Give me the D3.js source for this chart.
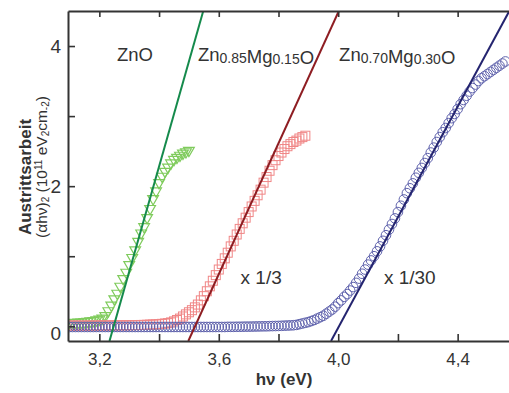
<!DOCTYPE html>
<html>
<head>
<meta charset="utf-8">
<script src="https://cdn.jsdelivr.net/npm/d3@7"></script>
<style>
  body { margin: 0; background: #fff; }
  text { font-family: "Liberation Sans", Arial, sans-serif; fill: #333; }
</style>
</head>
<body>
<div class="chart"></div>
<script>
const WIDTH = 509;
const HEIGHT = 393;

// axis ticks
const xMajorTicks = [3.2, 3.6, 4.0, 4.4];
const xMinorTicks = [3.4, 3.8, 4.2];
const xTickLabels = ['3,2', '3,6', '4,0', '4,4'];
const yMajorTicks = [0, 2, 4];
const yMinorTicks = [1, 3];

// measured curves [hv (eV), (alpha hv)^2]
const znoData = [
  [3.10,0.05],[3.11,0.05],[3.12,0.055],[3.13,0.06],[3.14,0.06],[3.15,0.065],[3.16,0.07],[3.17,0.075],
  [3.18,0.08],[3.19,0.09],[3.20,0.10],[3.21,0.115],[3.22,0.15],[3.23,0.22],[3.24,0.30],[3.25,0.39],
  [3.26,0.47],[3.27,0.57],[3.28,0.68],[3.29,0.77],[3.30,0.88],[3.31,0.98],[3.32,1.09],[3.33,1.21],
  [3.34,1.33],[3.35,1.42],[3.36,1.55],[3.37,1.68],[3.38,1.82],[3.39,1.93],[3.40,2.05],[3.41,2.14],
  [3.42,2.21],[3.43,2.27],[3.44,2.33],[3.45,2.38],[3.46,2.41],[3.47,2.44],[3.48,2.47],[3.49,2.49],[3.50,2.51]
];
const zn85Data = [
  [3.10,0.01],[3.11,0.01],[3.12,0.01],[3.13,0.01],[3.14,0.01],[3.15,0.01],[3.16,0.01],[3.17,0.01],
  [3.18,0.01],[3.19,0.01],[3.20,0.012],[3.21,0.012],[3.22,0.012],[3.23,0.012],[3.24,0.013],[3.25,0.013],
  [3.26,0.014],[3.27,0.014],[3.28,0.015],[3.29,0.015],[3.30,0.015],[3.31,0.016],[3.32,0.017],[3.33,0.018],
  [3.34,0.019],[3.35,0.02],[3.36,0.022],[3.37,0.024],[3.38,0.026],[3.39,0.028],[3.40,0.03],[3.41,0.035],
  [3.42,0.04],[3.43,0.045],[3.44,0.055],[3.45,0.07],[3.46,0.09],[3.47,0.11],[3.48,0.14],[3.49,0.17],
  [3.50,0.20],[3.51,0.23],[3.52,0.27],[3.53,0.31],[3.54,0.37],[3.55,0.43],[3.56,0.50],[3.57,0.57],
  [3.58,0.65],[3.59,0.73],[3.60,0.81],[3.61,0.89],[3.62,0.97],[3.63,1.05],[3.64,1.14],[3.65,1.22],
  [3.66,1.31],[3.67,1.39],[3.68,1.47],[3.69,1.55],[3.70,1.63],[3.71,1.71],[3.72,1.79],[3.73,1.87],
  [3.74,1.95],[3.75,2.05],[3.76,2.13],[3.77,2.22],[3.78,2.30],[3.79,2.37],[3.80,2.43],[3.81,2.48],
  [3.82,2.53],[3.83,2.57],[3.84,2.60],[3.85,2.63],[3.86,2.65],[3.87,2.68],[3.88,2.70],[3.89,2.72]
];
const zn70Data = [
  [3.10,-0.01],[3.11,-0.01],[3.12,-0.01],[3.13,-0.01],[3.14,-0.01],[3.15,-0.01],[3.16,-0.01],[3.17,-0.01],
  [3.18,-0.01],[3.19,-0.01],[3.20,-0.01],[3.21,-0.01],[3.22,-0.01],[3.23,-0.01],[3.24,-0.01],[3.25,-0.01],
  [3.26,-0.01],[3.27,-0.01],[3.28,-0.01],[3.29,-0.01],[3.30,-0.01],[3.31,-0.01],[3.32,-0.01],[3.33,-0.01],
  [3.34,-0.01],[3.35,-0.01],[3.36,-0.01],[3.37,-0.01],[3.38,-0.01],[3.39,-0.01],[3.40,-0.01],[3.41,-0.01],
  [3.42,-0.01],[3.43,-0.01],[3.44,-0.01],[3.45,-0.01],[3.46,-0.01],[3.47,-0.01],[3.48,-0.01],[3.49,-0.01],
  [3.50,-0.01],[3.51,-0.01],[3.52,-0.01],[3.53,-0.01],[3.54,-0.01],[3.55,-0.01],[3.56,-0.01],[3.57,-0.01],
  [3.58,-0.01],[3.59,-0.01],[3.60,-0.01],[3.61,-0.01],[3.62,-0.01],[3.63,-0.008],[3.64,-0.008],[3.65,-0.008],
  [3.66,-0.007],[3.67,-0.007],[3.68,-0.006],[3.69,-0.005],[3.70,-0.005],[3.71,-0.004],[3.72,-0.003],[3.73,-0.002],
  [3.74,-0.001],[3.75,0.0],[3.76,0.0],[3.77,0.002],[3.78,0.003],[3.79,0.004],[3.80,0.005],[3.81,0.007],
  [3.82,0.009],[3.83,0.011],[3.84,0.013],[3.85,0.015],[3.86,0.02],[3.87,0.03],[3.88,0.04],[3.89,0.05],
  [3.90,0.06],[3.91,0.075],[3.92,0.09],[3.93,0.11],[3.94,0.13],[3.95,0.15],[3.96,0.18],[3.97,0.21],
  [3.98,0.24],[3.99,0.28],[4.00,0.33],[4.01,0.37],[4.02,0.42],[4.03,0.46],[4.04,0.51],[4.05,0.56],
  [4.06,0.62],[4.07,0.68],[4.08,0.75],[4.09,0.81],[4.10,0.88],[4.11,0.94],[4.12,1.00],[4.13,1.07],
  [4.14,1.14],[4.15,1.22],[4.16,1.30],[4.17,1.38],[4.18,1.46],[4.19,1.54],[4.20,1.63],[4.21,1.72],
  [4.22,1.81],[4.23,1.90],[4.24,1.97],[4.25,2.04],[4.26,2.12],[4.27,2.19],[4.28,2.26],[4.29,2.33],
  [4.30,2.40],[4.31,2.48],[4.32,2.55],[4.33,2.63],[4.34,2.70],[4.35,2.77],[4.36,2.83],[4.37,2.90],
  [4.38,2.97],[4.39,3.03],[4.40,3.10],[4.41,3.17],[4.42,3.23],[4.43,3.29],[4.44,3.35],[4.45,3.40],
  [4.46,3.45],[4.47,3.50],[4.48,3.54],[4.49,3.57],[4.50,3.60],[4.51,3.63],[4.52,3.66],[4.53,3.69],
  [4.54,3.72],[4.55,3.75],[4.56,3.78]
];

// linear fits (end points in data units)
const znoFit = [[3.234, -0.21], [3.548, 4.5]];
const zn85Fit = [[3.498, -0.21], [4.002, 4.5]];
const zn70Fit = [[3.976, -0.21], [4.573, 4.5]];

const seriesNames = [
  [['ZnO', '']],
  [['Zn', '0.85'], ['Mg', '0.15'], ['O', '']],
  [['Zn', '0.70'], ['Mg', '0.30'], ['O', '']]
];
const nameAnchors = [[3.259, 3.78], [3.530, 3.78], [4.003, 3.78]];
const scaleNotes = ['x 1/3', 'x 1/30'];
const scaleAnchors = [[3.673, 0.6], [4.153, 0.6]];

const margin = {top: 11, right: 0, bottom: 52, left: 68};

const svg = d3.select('.chart')
              .append('svg')
              .attr('width', WIDTH)
              .attr('height', HEIGHT);

const x = d3.scaleLinear().domain([3.095, 4.572]).range([margin.left, WIDTH - margin.right]);
const y = d3.scaleLinear().domain([-0.21, 4.5]).range([HEIGHT - margin.bottom, margin.top]);

svg.append('clipPath').attr('id', 'plot-clip')
   .append('rect')
   .attr('x', margin.left).attr('y', margin.top)
   .attr('width', WIDTH - margin.left - margin.right)
   .attr('height', HEIGHT - margin.top - margin.bottom);

const plot = svg.append('g').attr('clip-path', 'url(#plot-clip)');

// markers
const tri = d3.symbol(d3.symbolTriangle, 50)();
plot.append('g').selectAll('path').data(znoData).enter().append('path')
    .attr('d', tri)
    .attr('transform', (d) => `translate(${x(d[0])},${y(d[1])}) rotate(180)`)
    .attr('fill', 'none')
    .attr('stroke', '#7fcb5c')
    .attr('stroke-width', 1.2);

plot.append('g').selectAll('rect').data(zn85Data).enter().append('rect')
    .attr('x', (d) => x(d[0]) - 4.5)
    .attr('y', (d) => y(d[1]) - 4.5)
    .attr('width', 9)
    .attr('height', 9)
    .attr('fill', 'none')
    .attr('stroke', '#f08686')
    .attr('stroke-width', 1);

plot.append('g').selectAll('circle').data(zn70Data).enter().append('circle')
    .attr('cx', (d) => x(d[0]))
    .attr('cy', (d) => y(d[1]))
    .attr('r', 4.8)
    .attr('fill', 'none')
    .attr('stroke', '#6063ad')
    .attr('stroke-width', 1);

// fit lines
const fitLine = d3.line().x((d) => x(d[0])).y((d) => y(d[1]));
[[znoFit, '#158a4c'], [zn85Fit, '#8e1d22'], [zn70Fit, '#24246f']].forEach(([fit, color]) => {
  plot.append('path')
      .attr('d', fitLine(fit))
      .attr('fill', 'none')
      .attr('stroke', color)
      .attr('stroke-width', 2);
});

// axes
const labelOf = (d) => {
  const i = xMajorTicks.indexOf(d);
  return i >= 0 ? xTickLabels[i] : '';
};
const xBottom = svg.append('g')
    .attr('transform', `translate(0,${HEIGHT - margin.bottom})`)
    .call(d3.axisBottom(x).tickValues(xMajorTicks.concat(xMinorTicks))
            .tickSizeInner(-7).tickSizeOuter(0).tickPadding(12).tickFormat(labelOf));
const xTop = svg.append('g')
    .attr('transform', `translate(0,${margin.top})`)
    .call(d3.axisTop(x).tickValues(xMajorTicks.concat(xMinorTicks))
            .tickSizeInner(-6).tickSizeOuter(0).tickFormat(() => ''));
const yLeft = svg.append('g')
    .attr('transform', `translate(${margin.left},0)`)
    .call(d3.axisLeft(y).tickValues(yMajorTicks.concat(yMinorTicks))
            .tickSizeInner(-7).tickSizeOuter(0).tickPadding(7)
            .tickFormat((d) => yMajorTicks.includes(d) ? d : ''));

[xBottom, xTop, yLeft].forEach((g) => {
  g.select('.domain').attr('stroke', '#333').attr('stroke-width', 2);
  g.selectAll('.tick line').attr('stroke', '#333').attr('stroke-width', 1.6);
  g.selectAll('.tick text').attr('fill', '#333').style('font-family', '"Liberation Sans", Arial, sans-serif');
});
xBottom.selectAll('.tick text').style('font-size', '17px');
yLeft.selectAll('.tick text').style('font-size', '19px');
yLeft.selectAll('.tick text').filter((d) => d === 0).attr('dy', '0.68em');

// axis titles
svg.append('text')
   .attr('x', 284).attr('y', 385)
   .attr('text-anchor', 'middle')
   .style('font-size', '17px').style('font-weight', 'bold')
   .text('hν (eV)');

svg.append('text')
   .attr('transform', 'translate(31,177) rotate(-90)')
   .attr('text-anchor', 'middle')
   .style('font-size', '17px').style('font-weight', 'bold')
   .text('Austrittsarbeit');

const yt = svg.append('text')
   .attr('transform', 'translate(47,167) rotate(-90)')
   .attr('text-anchor', 'middle')
   .style('font-size', '15.5px');
yt.append('tspan').text('(αhν)');
yt.append('tspan').attr('dy', 2).style('font-size', '10px').text('2');
yt.append('tspan').attr('dy', -2).text(' (10');
yt.append('tspan').attr('dy', -5).style('font-size', '10px').text('11');
yt.append('tspan').attr('dy', 5).text(' eV');
yt.append('tspan').attr('dy', 2).style('font-size', '10px').text('2');
yt.append('tspan').attr('dy', -2).text('cm');
yt.append('tspan').attr('dy', 2).style('font-size', '10px').text('-2');
yt.append('tspan').attr('dy', -2).text(')');

// series names
seriesNames.forEach((parts, i) => {
  const t = svg.append('text')
      .attr('x', x(nameAnchors[i][0]))
      .attr('y', y(nameAnchors[i][1]))
      .style('font-size', '18.5px');
  parts.forEach(([main, sub]) => {
    t.append('tspan').text(main);
    if (sub) {
      t.append('tspan').attr('dy', 1.5).style('font-size', '14px').text(sub);
      t.append('tspan').attr('dy', -1.5).text('');
    }
  });
});

scaleNotes.forEach((note, i) => {
  svg.append('text')
     .attr('x', x(scaleAnchors[i][0]))
     .attr('y', y(scaleAnchors[i][1]))
     .style('font-size', '19px')
     .text(note);
});
</script>
</body>
</html>
